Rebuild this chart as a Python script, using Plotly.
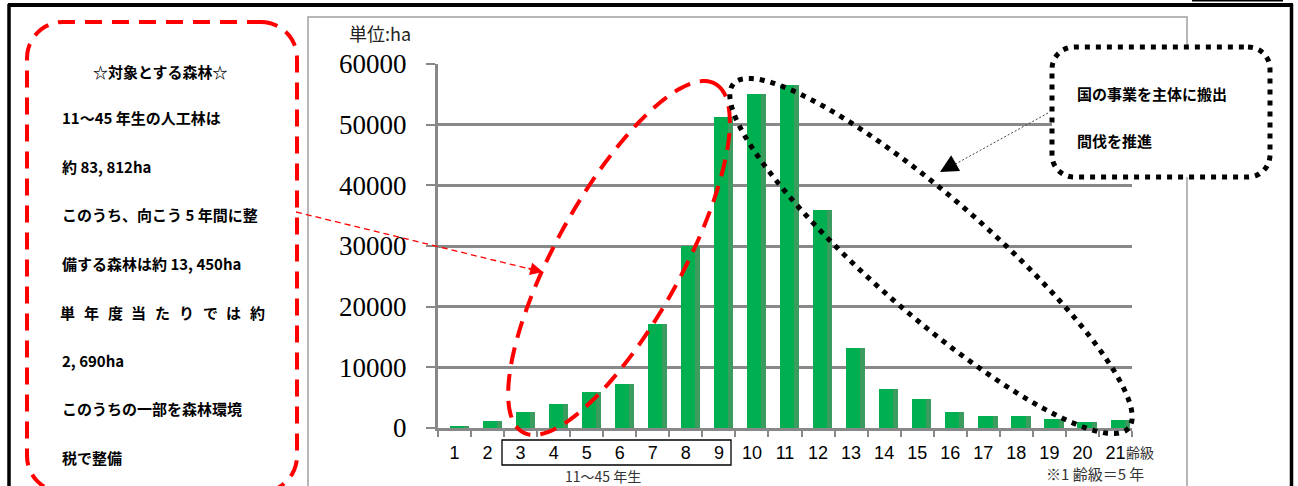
import math
import plotly.graph_objects as go

# ---- data ----
age_class = ["1", "2", "3", "4", "5", "6", "7", "8", "9", "10", "11",
             "12", "13", "14", "15", "16", "17", "18", "19", "20", "21"]
area_ha = [400, 1200, 2600, 3900, 5900, 7300, 17200, 30000, 51300, 55000, 56600,
           36000, 13200, 6500, 4700, 2600, 1900, 1900, 1500, 1000, 1300]
y_ticks = [0, 10000, 20000, 30000, 40000, 50000, 60000]

left_lines = ["11～45 年生の人工林は", "約 83, 812ha", "このうち、向こう 5 年間に整",
              "備する森林は約 13, 450ha", "単年度当たりでは約", "2, 690ha",
              "このうちの一部を森林環境", "税で整備"]
left_title = "☆対象とする森林☆"
right_lines = ["国の事業を主体に搬出", "間伐を推進"]

# ---- geometry of plot area (pixels) ----
WIDTH, HEIGHT = 1298, 486
L, R, T, B = 438, 1132, 64, 428
PW, PH = R - L, B - T


def px(x):
    return (x - L) / PW


def py(y):
    return (B - y) / PH


def path_from_pts(pts, close=True):
    s = "M " + " L ".join(f"{px(x):.5f},{py(y):.5f}" for x, y in pts)
    return s + (" Z" if close else "")


def ellipse_pts(cx, cy, a, b, ux, uy, n=160):
    nx, ny = -uy, ux
    pts = []
    for i in range(n):
        t = 2 * math.pi * i / n
        pts.append((cx + a * math.cos(t) * ux + b * math.sin(t) * nx,
                    cy + a * math.cos(t) * uy + b * math.sin(t) * ny))
    return pts


def rounded_rect_pts(x0, y0, x1, y1, r, n=12):
    pts = []
    corners = [(x1 - r, y0 + r, -90, 0), (x1 - r, y1 - r, 0, 90),
               (x0 + r, y1 - r, 90, 180), (x0 + r, y0 + r, 180, 270)]
    for cx, cy, a0, a1 in corners:
        for i in range(n + 1):
            a = math.radians(a0 + (a1 - a0) * i / n)
            pts.append((cx + r * math.cos(a), cy + r * math.sin(a)))
    return pts


fig = go.Figure()

# side face (darker) drawn behind the front face
fig.add_trace(go.Bar(x=age_class, y=area_ha, marker_color="#3C9C60",
                     marker_line_width=0, width=0.58, offset=-0.15,
                     hoverinfo="skip", showlegend=False))
fig.add_trace(go.Bar(x=age_class, y=area_ha, marker_color="#00B050",
                     marker_line_width=0, width=0.43, offset=-0.15,
                     showlegend=False, name="面積"))

shapes = []
# outer black frame
shapes.append(dict(type="line", xref="paper", yref="paper", x0=px(8), x1=px(1293),
                   y0=py(5), y1=py(5), line=dict(color="black", width=4)))
shapes.append(dict(type="line", xref="paper", yref="paper", x0=px(9), x1=px(9),
                   y0=py(4), y1=py(490), line=dict(color="black", width=3.5)))
shapes.append(dict(type="line", xref="paper", yref="paper", x0=px(1291.5), x1=px(1291.5),
                   y0=py(4), y1=py(490), line=dict(color="black", width=3.5)))
shapes.append(dict(type="line", xref="paper", yref="paper", x0=px(1192), x1=px(1283),
                   y0=py(0.7), y1=py(0.7), line=dict(color="black", width=1.5)))
# gray chart frame
shapes.append(dict(type="rect", xref="paper", yref="paper", x0=px(308), x1=px(1187),
                   y0=py(17), y1=py(500), line=dict(color="#A0A0A0", width=1.5),
                   layer="below"))
# left red dashed rounded box
shapes.append(dict(type="path", xref="paper", yref="paper",
                   path=path_from_pts(rounded_rect_pts(27, 22, 297, 492, 36)),
                   line=dict(color="#FF0000", width=4, dash="17px,10px")))
# red thin dashed arrow line
shapes.append(dict(type="line", xref="paper", yref="paper", x0=px(296), y0=py(212),
                   x1=px(530), y1=py(269), line=dict(color="#FF0000", width=1.3, dash="6px,4px")))
# red dashed ellipse
shapes.append(dict(type="path", xref="paper", yref="paper",
                   path=path_from_pts(ellipse_pts(619, 258, 199, 63, 0.483, -0.876)),
                   line=dict(color="#FF0000", width=4, dash="17px,10px")))
# black dotted ellipse
shapes.append(dict(type="path", xref="paper", yref="paper",
                   path=path_from_pts(ellipse_pts(931, 256, 262, 58, 0.754, 0.657)),
                   line=dict(color="black", width=5, dash="5px,6px")))
# thin dotted line from right box
shapes.append(dict(type="line", xref="paper", yref="paper", x0=px(1048), y0=py(113),
                   x1=px(950), y1=py(167), line=dict(color="#444", width=1, dash="2px,2px")))
# right dotted rounded box (white filled)
shapes.append(dict(type="path", xref="paper", yref="paper",
                   path=path_from_pts(rounded_rect_pts(1052, 47, 1270, 177, 22)),
                   fillcolor="white", line=dict(color="black", width=5, dash="5px,6px")))
# box around labels 3-9
shapes.append(dict(type="rect", xref="paper", yref="paper", x0=px(502), x1=px(731),
                   y0=py(440), y1=py(465), line=dict(color="black", width=1.3)))

jp = "Noto Sans CJK JP"
annotations = []


def text(x, y, s, size=15, anchor="left", bold=True, color="black", family=jp):
    annotations.append(dict(xref="paper", yref="paper", x=px(x), y=py(y),
                            text=f"<b>{s}</b>" if bold else s, showarrow=False,
                            xanchor=anchor, yanchor="middle",
                            font=dict(family=family, size=size, color=color)))


text(160, 71, left_title, anchor="center")
ys = [117, 166, 214, 263, 312, 360, 408, 457]
for yy, s in zip(ys, left_lines):
    if s == "単年度当たりでは約":
        n = len(s)
        for i, ch in enumerate(s):
            text(67.5 + i * (205 - 15) / (n - 1), yy, ch, anchor="center")
    else:
        text(60, yy, s)

text(1075, 93, right_lines[0])
text(1075, 140, right_lines[1])

text(347, 33, "単位:ha", size=18, bold=False, color="#222")
text(603, 476, "11～45 年生", size=14, anchor="center", bold=False, color="#333")
text(1124, 452, "齢級", size=14, bold=False, color="#333")
text(1044, 473, "※1 齢級＝5 年", size=15, bold=False, color="#333")

# arrowheads
annotations.append(dict(xref="paper", yref="paper", x=px(543), y=py(272), text="",
                        showarrow=True, arrowhead=2, arrowsize=1.6, arrowwidth=1.6,
                        arrowcolor="#FF0000", ax=-16, ay=-4))
annotations.append(dict(xref="paper", yref="paper", x=px(940), y=py(172), text="",
                        showarrow=True, arrowhead=2, arrowsize=1.8, arrowwidth=2,
                        arrowcolor="black", ax=14, ay=-8))

fig.update_layout(
    width=WIDTH, height=HEIGHT,
    margin=dict(l=L, r=WIDTH - R, t=T, b=HEIGHT - B, autoexpand=False),
    paper_bgcolor="white", plot_bgcolor="white",
    barmode="overlay", bargap=0,
    shapes=shapes, annotations=annotations,
    xaxis=dict(type="category", range=[-0.5, 20.5], tickson="boundaries",
               ticks="outside", ticklen=6, tickwidth=2, tickcolor="#888",
               showline=True, linecolor="#888", linewidth=3, showgrid=False,
               tickfont=dict(family="Liberation Sans", size=18, color="black"),
               ticklabelstandoff=6, fixedrange=True),
    yaxis=dict(range=[0, 60000], tickvals=y_ticks, tickformat="d",
               showgrid=True, gridcolor="#888", gridwidth=3, zeroline=False,
               showline=True, linecolor="#888", linewidth=3,
               ticks="outside", ticklen=9, tickwidth=2, tickcolor="#888",
               tickfont=dict(family="Liberation Serif", size=27, color="black"),
               ticklabelstandoff=14, fixedrange=True),
)

fig.write_html("out.html", config={"displayModeBar": False},
               post_script="document.body.style.margin='0';document.body.style.overflow='hidden';")
